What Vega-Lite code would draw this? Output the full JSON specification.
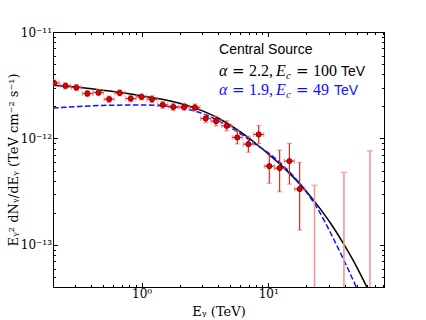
{
  "$schema": "https://vega.github.io/schema/vega-lite/v6.json",
  "width": 331,
  "height": 255,
  "autosize": {"type": "none"},
  "padding": {"left": 53, "top": 32, "right": 42, "bottom": 33},
  "background": "white",
  "config": {
    "view": {"stroke": "black", "strokeWidth": 1},
    "axis": {
      "grid": false,
      "domainColor": "black",
      "domainWidth": 1,
      "tickColor": "black",
      "tickWidth": 1,
      "labelColor": "black",
      "titleColor": "black",
      "labelFont": "DejaVu Serif",
      "titleFont": "DejaVu Serif",
      "titleFontWeight": "normal",
      "labelOverlap": false,
      "labelFlush": false
    },
    "text": {"align": "left", "baseline": "alphabetic"}
  },
  "datasets": {
    "points": [
      {"E": 0.204, "Elo": 0.186, "Ehi": 0.224, "F": 3.32e-12, "Flo": 3.11e-12, "Fhi": 3.55e-12},
      {"E": 0.251, "Elo": 0.229, "Ehi": 0.275, "F": 3.12e-12, "Flo": 2.92e-12, "Fhi": 3.33e-12},
      {"E": 0.306, "Elo": 0.279, "Ehi": 0.335, "F": 3.01e-12, "Flo": 2.82e-12, "Fhi": 3.21e-12},
      {"E": 0.374, "Elo": 0.341, "Ehi": 0.41, "F": 2.645e-12, "Flo": 2.48e-12, "Fhi": 2.82e-12},
      {"E": 0.457, "Elo": 0.417, "Ehi": 0.501, "F": 2.7e-12, "Flo": 2.53e-12, "Fhi": 2.88e-12},
      {"E": 0.555, "Elo": 0.506, "Ehi": 0.608, "F": 2.34e-12, "Flo": 2.19e-12, "Fhi": 2.5e-12},
      {"E": 0.673, "Elo": 0.614, "Ehi": 0.738, "F": 2.68e-12, "Flo": 2.51e-12, "Fhi": 2.86e-12},
      {"E": 0.822, "Elo": 0.75, "Ehi": 0.901, "F": 2.37e-12, "Flo": 2.22e-12, "Fhi": 2.53e-12},
      {"E": 1.0, "Elo": 0.912, "Ehi": 1.096, "F": 2.46e-12, "Flo": 2.3e-12, "Fhi": 2.62e-12},
      {"E": 1.21, "Elo": 1.104, "Ehi": 1.326, "F": 2.34e-12, "Flo": 2.17e-12, "Fhi": 2.52e-12},
      {"E": 1.47, "Elo": 1.341, "Ehi": 1.611, "F": 2.07e-12, "Flo": 1.92e-12, "Fhi": 2.23e-12},
      {"E": 1.78, "Elo": 1.624, "Ehi": 1.951, "F": 1.98e-12, "Flo": 1.835e-12, "Fhi": 2.14e-12},
      {"E": 2.17, "Elo": 1.98, "Ehi": 2.378, "F": 1.98e-12, "Flo": 1.835e-12, "Fhi": 2.14e-12},
      {"E": 2.64, "Elo": 2.409, "Ehi": 2.893, "F": 1.955e-12, "Flo": 1.81e-12, "Fhi": 2.11e-12},
      {"E": 3.21, "Elo": 2.929, "Ehi": 3.518, "F": 1.54e-12, "Flo": 1.41e-12, "Fhi": 1.68e-12},
      {"E": 3.87, "Elo": 3.531, "Ehi": 4.242, "F": 1.455e-12, "Flo": 1.31e-12, "Fhi": 1.62e-12},
      {"E": 4.7, "Elo": 4.288, "Ehi": 5.151, "F": 1.315e-12, "Flo": 1.18e-12, "Fhi": 1.465e-12},
      {"E": 5.7, "Elo": 5.201, "Ehi": 6.247, "F": 1.023e-12, "Flo": 8.89e-13, "Fhi": 1.178e-12},
      {"E": 6.97, "Elo": 6.359, "Ehi": 7.639, "F": 8.85e-13, "Flo": 7.44e-13, "Fhi": 1.052e-12},
      {"E": 8.41, "Elo": 7.673, "Ehi": 9.217, "F": 1.091e-12, "Flo": 8.99e-13, "Fhi": 1.325e-12},
      {"E": 10.2, "Elo": 9.307, "Ehi": 11.18, "F": 5.5e-13, "Flo": 3.79e-13, "Fhi": 6.98e-13},
      {"E": 12.3, "Elo": 11.22, "Ehi": 13.48, "F": 5.27e-13, "Flo": 3.16e-13, "Fhi": 7.78e-13},
      {"E": 14.7, "Elo": 13.41, "Ehi": 16.11, "F": 6.13e-13, "Flo": 3.73e-13, "Fhi": 8.99e-13},
      {"E": 17.7, "Elo": 16.15, "Ehi": 19.4, "F": 3.35e-13, "Flo": 1.38e-13, "Fhi": 5.96e-13}
    ],
    "ul": [
      {"E": 23.2, "Flo": 1e-14, "Fhi": 3.63e-13},
      {"E": 39.6, "Flo": 1e-14, "Fhi": 4.8e-13},
      {"E": 63.5, "Flo": 1e-14, "Fhi": 7.66e-13}
    ],
    "black": [
      {"E": 0.2, "F": 3.162e-12},
      {"E": 0.3556, "F": 2.985e-12},
      {"E": 0.5623, "F": 2.786e-12},
      {"E": 1.0, "F": 2.512e-12},
      {"E": 1.585, "F": 2.291e-12},
      {"E": 2.41, "F": 2.009e-12},
      {"E": 3.162, "F": 1.778e-12},
      {"E": 3.981, "F": 1.567e-12},
      {"E": 5.012, "F": 1.334e-12},
      {"E": 6.31, "F": 1.109e-12},
      {"E": 7.943, "F": 9.016e-13},
      {"E": 10.0, "F": 7.161e-13},
      {"E": 12.59, "F": 5.623e-13},
      {"E": 15.85, "F": 4.315e-13},
      {"E": 19.95, "F": 3.199e-13},
      {"E": 25.12, "F": 2.265e-13},
      {"E": 31.62, "F": 1.549e-13},
      {"E": 39.81, "F": 1.0e-13},
      {"E": 50.12, "F": 6.166e-14},
      {"E": 63.1, "F": 3.548e-14},
      {"E": 70.8, "F": 2.63e-14}
    ],
    "blue": [
      {"E": 0.2, "F": 1.928e-12},
      {"E": 0.3162, "F": 1.995e-12},
      {"E": 0.5623, "F": 2.051e-12},
      {"E": 1.0, "F": 2.065e-12},
      {"E": 1.585, "F": 2.009e-12},
      {"E": 2.41, "F": 1.862e-12},
      {"E": 3.162, "F": 1.679e-12},
      {"E": 3.981, "F": 1.479e-12},
      {"E": 5.012, "F": 1.274e-12},
      {"E": 6.31, "F": 1.072e-12},
      {"E": 7.943, "F": 8.81e-13},
      {"E": 10.0, "F": 7.328e-13},
      {"E": 12.59, "F": 5.821e-13},
      {"E": 15.85, "F": 4.416e-13},
      {"E": 19.95, "F": 3.162e-13},
      {"E": 25.12, "F": 2.089e-13},
      {"E": 31.62, "F": 1.245e-13},
      {"E": 39.81, "F": 7.079e-14},
      {"E": 50.12, "F": 3.89e-14},
      {"E": 56.23, "F": 2.818e-14}
    ]
  },
  "layer": [
    {
      "data": {"name": "black"},
      "mark": {"type": "line", "color": "black", "strokeWidth": 1.5, "clip": true, "interpolate": "monotone"},
      "encoding": {
        "x": {
          "field": "E", "type": "quantitative",
          "scale": {"type": "log", "domain": [0.2, 82], "nice": false},
          "axis": {
            "orient": "bottom",
            "values": [0.2, 0.3, 0.4, 0.5, 0.6, 0.7, 0.8, 0.9, 1, 2, 3, 4, 5, 6, 7, 8, 9, 10, 20, 30, 40, 50, 60, 70, 80],
            "labelExpr": "datum.value == 1 ? '10⁰' : (datum.value == 10 ? '10¹' : '')",
            "tickSize": {"condition": {"test": "datum.value == 1 || datum.value == 10", "value": -4.5}, "value": -2.5},
            "labelFontSize": 12,
            "labelPadding": 6,
            "title": "Eᵧ (TeV)",
            "titleFontSize": 13,
            "titlePadding": 4
          }
        },
        "y": {
          "field": "F", "type": "quantitative",
          "scale": {"type": "log", "domain": [4.03e-14, 1e-11], "nice": false},
          "axis": {
            "orient": "left",
            "values": [5e-14, 6e-14, 7e-14, 8e-14, 9e-14, 1e-13, 2e-13, 3e-13, 4e-13, 5e-13, 6e-13, 7e-13, 8e-13, 9e-13, 1e-12, 2e-12, 3e-12, 4e-12, 5e-12, 6e-12, 7e-12, 8e-12, 9e-12, 1e-11],
            "labelExpr": "abs(log(datum.value)/LN10 - round(log(datum.value)/LN10)) < 0.001 ? ('10' + (round(log(datum.value)/LN10) == -11 ? '⁻¹¹' : (round(log(datum.value)/LN10) == -12 ? '⁻¹²' : '⁻¹³'))) : ''",
            "tickSize": {"condition": {"test": "abs(log(datum.value)/LN10 - round(log(datum.value)/LN10)) < 0.001", "value": -4.5}, "value": -2.5},
            "labelFontSize": 12,
            "labelPadding": 6,
            "title": "Eᵧ² dNᵧ/dEᵧ (TeV cm⁻² s⁻¹)",
            "titleFontSize": 13,
            "titlePadding": 0
          }
        }
      }
    },
    {
      "data": {"name": "blue"},
      "mark": {"type": "line", "color": "#1010ff", "strokeWidth": 1.5, "strokeDash": [5.5, 2.5], "clip": true, "interpolate": "monotone"},
      "encoding": {
        "x": {
          "field": "E", "type": "quantitative",
          "scale": {"type": "log", "domain": [0.2, 82], "nice": false},
          "axis": {
            "orient": "top",
            "values": [0.2, 0.3, 0.4, 0.5, 0.6, 0.7, 0.8, 0.9, 1, 2, 3, 4, 5, 6, 7, 8, 9, 10, 20, 30, 40, 50, 60, 70, 80],
            "labels": false,
            "title": null,
            "tickSize": {"condition": {"test": "datum.value == 1 || datum.value == 10", "value": -4.5}, "value": -2.5}
          }
        },
        "y": {
          "field": "F", "type": "quantitative",
          "scale": {"type": "log", "domain": [4.03e-14, 1e-11], "nice": false},
          "axis": {
            "orient": "right",
            "values": [5e-14, 6e-14, 7e-14, 8e-14, 9e-14, 1e-13, 2e-13, 3e-13, 4e-13, 5e-13, 6e-13, 7e-13, 8e-13, 9e-13, 1e-12, 2e-12, 3e-12, 4e-12, 5e-12, 6e-12, 7e-12, 8e-12, 9e-12, 1e-11],
            "labels": false,
            "title": null,
            "tickSize": {"condition": {"test": "abs(log(datum.value)/LN10 - round(log(datum.value)/LN10)) < 0.001", "value": -4.5}, "value": -2.5}
          }
        }
      }
    },
    {
      "data": {"name": "ul"},
      "mark": {"type": "errorbar", "clip": true, "ticks": true, "size": 6, "thickness": 1.6, "color": "#f79494"},
      "encoding": {
        "x": {"field": "E", "type": "quantitative", "scale": {"type": "log", "domain": [0.2, 82], "nice": false}, "axis": null},
        "y": {"field": "Flo", "type": "quantitative", "scale": {"type": "log", "domain": [4.03e-14, 1e-11], "nice": false}, "axis": null},
        "y2": {"field": "Fhi"}
      }
    },
    {
      "data": {"name": "points"},
      "mark": {"type": "errorbar", "clip": true, "ticks": {"color": "#f47a7a"}, "rule": {"color": "#e82424"}, "size": 5, "thickness": 1.2},
      "encoding": {
        "x": {"field": "E", "type": "quantitative", "scale": {"type": "log", "domain": [0.2, 82], "nice": false}, "axis": null},
        "y": {"field": "Flo", "type": "quantitative", "scale": {"type": "log", "domain": [4.03e-14, 1e-11], "nice": false}, "axis": null},
        "y2": {"field": "Fhi"}
      }
    },
    {
      "data": {"name": "points"},
      "mark": {"type": "errorbar", "clip": true, "ticks": {"color": "#f47a7a"}, "rule": {"color": "#e82424"}, "size": 5, "thickness": 1.2},
      "encoding": {
        "y": {"field": "F", "type": "quantitative", "scale": {"type": "log", "domain": [4.03e-14, 1e-11], "nice": false}, "axis": null},
        "x": {"field": "Elo", "type": "quantitative", "scale": {"type": "log", "domain": [0.2, 82], "nice": false}, "axis": null},
        "x2": {"field": "Ehi"}
      }
    },
    {
      "data": {"name": "points"},
      "mark": {"type": "point", "shape": "circle", "filled": true, "size": 28, "fill": "#e00000", "stroke": "#7a0000", "strokeWidth": 0.8, "opacity": 1, "clip": true},
      "encoding": {
        "x": {"field": "E", "type": "quantitative", "scale": {"type": "log", "domain": [0.2, 82], "nice": false}, "axis": null},
        "y": {"field": "F", "type": "quantitative", "scale": {"type": "log", "domain": [4.03e-14, 1e-11], "nice": false}, "axis": null}
      }
    },
    {
      "data": {"values": [{}]},
      "mark": {"type": "text", "text": "Central Source", "font": "Liberation Sans", "fontSize": 14, "color": "black"},
      "encoding": {
        "x": {"datum": 4.09, "type": "quantitative", "scale": {"type": "log", "domain": [0.2, 82], "nice": false}, "axis": null},
        "y": {"datum": 6.27e-12, "type": "quantitative", "scale": {"type": "log", "domain": [4.03e-14, 1e-11], "nice": false}, "axis": null}
      }
    },
    {
      "data": {"values": [{}]},
      "mark": {"type": "text", "text": "α", "font": "Liberation Serif", "fontSize": 16, "fontStyle": "italic", "color": "black"},
      "encoding": {
        "x": {"datum": 4.09, "type": "quantitative", "scale": {"type": "log", "domain": [0.2, 82], "nice": false}, "axis": null},
        "y": {"datum": 3.84e-12, "type": "quantitative", "scale": {"type": "log", "domain": [4.03e-14, 1e-11], "nice": false}, "axis": null}
      }
    },
    {
      "data": {"values": [{}]},
      "mark": {"type": "text", "text": "=", "font": "DejaVu Serif", "fontSize": 15, "color": "black", "dx": 13},
      "encoding": {
        "x": {"datum": 4.09, "type": "quantitative", "scale": {"type": "log", "domain": [0.2, 82], "nice": false}, "axis": null},
        "y": {"datum": 3.84e-12, "type": "quantitative", "scale": {"type": "log", "domain": [4.03e-14, 1e-11], "nice": false}, "axis": null}
      }
    },
    {
      "data": {"values": [{}]},
      "mark": {"type": "text", "text": "2.2,", "font": "Liberation Serif", "fontSize": 16, "color": "black", "dx": 30},
      "encoding": {
        "x": {"datum": 4.09, "type": "quantitative", "scale": {"type": "log", "domain": [0.2, 82], "nice": false}, "axis": null},
        "y": {"datum": 3.84e-12, "type": "quantitative", "scale": {"type": "log", "domain": [4.03e-14, 1e-11], "nice": false}, "axis": null}
      }
    },
    {
      "data": {"values": [{}]},
      "mark": {"type": "text", "text": "E", "font": "Liberation Serif", "fontSize": 16, "fontStyle": "italic", "color": "black", "dx": 57},
      "encoding": {
        "x": {"datum": 4.09, "type": "quantitative", "scale": {"type": "log", "domain": [0.2, 82], "nice": false}, "axis": null},
        "y": {"datum": 3.84e-12, "type": "quantitative", "scale": {"type": "log", "domain": [4.03e-14, 1e-11], "nice": false}, "axis": null}
      }
    },
    {
      "data": {"values": [{}]},
      "mark": {"type": "text", "text": "c", "font": "Liberation Serif", "fontSize": 11, "fontStyle": "italic", "color": "black", "dx": 67, "dy": 3},
      "encoding": {
        "x": {"datum": 4.09, "type": "quantitative", "scale": {"type": "log", "domain": [0.2, 82], "nice": false}, "axis": null},
        "y": {"datum": 3.84e-12, "type": "quantitative", "scale": {"type": "log", "domain": [4.03e-14, 1e-11], "nice": false}, "axis": null}
      }
    },
    {
      "data": {"values": [{}]},
      "mark": {"type": "text", "text": "=", "font": "DejaVu Serif", "fontSize": 15, "color": "black", "dx": 77},
      "encoding": {
        "x": {"datum": 4.09, "type": "quantitative", "scale": {"type": "log", "domain": [0.2, 82], "nice": false}, "axis": null},
        "y": {"datum": 3.84e-12, "type": "quantitative", "scale": {"type": "log", "domain": [4.03e-14, 1e-11], "nice": false}, "axis": null}
      }
    },
    {
      "data": {"values": [{}]},
      "mark": {"type": "text", "text": "100", "font": "Liberation Serif", "fontSize": 16, "color": "black", "dx": 94},
      "encoding": {
        "x": {"datum": 4.09, "type": "quantitative", "scale": {"type": "log", "domain": [0.2, 82], "nice": false}, "axis": null},
        "y": {"datum": 3.84e-12, "type": "quantitative", "scale": {"type": "log", "domain": [4.03e-14, 1e-11], "nice": false}, "axis": null}
      }
    },
    {
      "data": {"values": [{}]},
      "mark": {"type": "text", "text": "TeV", "font": "Liberation Sans", "fontSize": 14, "color": "black", "dx": 122},
      "encoding": {
        "x": {"datum": 4.09, "type": "quantitative", "scale": {"type": "log", "domain": [0.2, 82], "nice": false}, "axis": null},
        "y": {"datum": 3.84e-12, "type": "quantitative", "scale": {"type": "log", "domain": [4.03e-14, 1e-11], "nice": false}, "axis": null}
      }
    },
    {
      "data": {"values": [{}]},
      "mark": {"type": "text", "text": "α", "font": "Liberation Serif", "fontSize": 16, "fontStyle": "italic", "color": "#1010ff"},
      "encoding": {
        "x": {"datum": 4.09, "type": "quantitative", "scale": {"type": "log", "domain": [0.2, 82], "nice": false}, "axis": null},
        "y": {"datum": 2.55e-12, "type": "quantitative", "scale": {"type": "log", "domain": [4.03e-14, 1e-11], "nice": false}, "axis": null}
      }
    },
    {
      "data": {"values": [{}]},
      "mark": {"type": "text", "text": "=", "font": "DejaVu Serif", "fontSize": 15, "color": "#1010ff", "dx": 13},
      "encoding": {
        "x": {"datum": 4.09, "type": "quantitative", "scale": {"type": "log", "domain": [0.2, 82], "nice": false}, "axis": null},
        "y": {"datum": 2.55e-12, "type": "quantitative", "scale": {"type": "log", "domain": [4.03e-14, 1e-11], "nice": false}, "axis": null}
      }
    },
    {
      "data": {"values": [{}]},
      "mark": {"type": "text", "text": "1.9,", "font": "Liberation Serif", "fontSize": 16, "color": "#1010ff", "dx": 30},
      "encoding": {
        "x": {"datum": 4.09, "type": "quantitative", "scale": {"type": "log", "domain": [0.2, 82], "nice": false}, "axis": null},
        "y": {"datum": 2.55e-12, "type": "quantitative", "scale": {"type": "log", "domain": [4.03e-14, 1e-11], "nice": false}, "axis": null}
      }
    },
    {
      "data": {"values": [{}]},
      "mark": {"type": "text", "text": "E", "font": "Liberation Serif", "fontSize": 16, "fontStyle": "italic", "color": "#1010ff", "dx": 57},
      "encoding": {
        "x": {"datum": 4.09, "type": "quantitative", "scale": {"type": "log", "domain": [0.2, 82], "nice": false}, "axis": null},
        "y": {"datum": 2.55e-12, "type": "quantitative", "scale": {"type": "log", "domain": [4.03e-14, 1e-11], "nice": false}, "axis": null}
      }
    },
    {
      "data": {"values": [{}]},
      "mark": {"type": "text", "text": "c", "font": "Liberation Serif", "fontSize": 11, "fontStyle": "italic", "color": "#1010ff", "dx": 67, "dy": 3},
      "encoding": {
        "x": {"datum": 4.09, "type": "quantitative", "scale": {"type": "log", "domain": [0.2, 82], "nice": false}, "axis": null},
        "y": {"datum": 2.55e-12, "type": "quantitative", "scale": {"type": "log", "domain": [4.03e-14, 1e-11], "nice": false}, "axis": null}
      }
    },
    {
      "data": {"values": [{}]},
      "mark": {"type": "text", "text": "=", "font": "DejaVu Serif", "fontSize": 15, "color": "#1010ff", "dx": 77},
      "encoding": {
        "x": {"datum": 4.09, "type": "quantitative", "scale": {"type": "log", "domain": [0.2, 82], "nice": false}, "axis": null},
        "y": {"datum": 2.55e-12, "type": "quantitative", "scale": {"type": "log", "domain": [4.03e-14, 1e-11], "nice": false}, "axis": null}
      }
    },
    {
      "data": {"values": [{}]},
      "mark": {"type": "text", "text": "49", "font": "Liberation Serif", "fontSize": 16, "color": "#1010ff", "dx": 94},
      "encoding": {
        "x": {"datum": 4.09, "type": "quantitative", "scale": {"type": "log", "domain": [0.2, 82], "nice": false}, "axis": null},
        "y": {"datum": 2.55e-12, "type": "quantitative", "scale": {"type": "log", "domain": [4.03e-14, 1e-11], "nice": false}, "axis": null}
      }
    },
    {
      "data": {"values": [{}]},
      "mark": {"type": "text", "text": "TeV", "font": "Liberation Sans", "fontSize": 14, "color": "#1010ff", "dx": 115},
      "encoding": {
        "x": {"datum": 4.09, "type": "quantitative", "scale": {"type": "log", "domain": [0.2, 82], "nice": false}, "axis": null},
        "y": {"datum": 2.55e-12, "type": "quantitative", "scale": {"type": "log", "domain": [4.03e-14, 1e-11], "nice": false}, "axis": null}
      }
    }
  ],
  "resolve": {"axis": {"x": "independent", "y": "independent"}}
}
